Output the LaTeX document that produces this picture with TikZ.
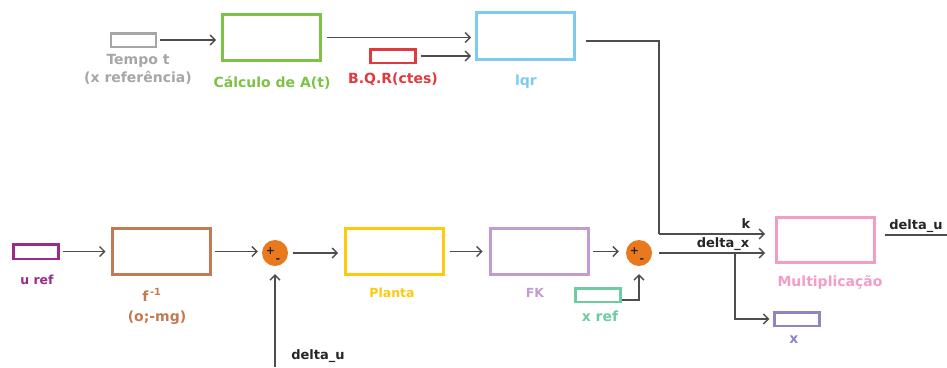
\documentclass[tikz,border=0pt]{standalone}
\usepackage{fontspec}
\setmainfont{DejaVu Sans}
\usetikzlibrary{arrows.meta,calc}
\definecolor{tgray}{HTML}{A6A6A6}
\definecolor{cgreen}{HTML}{7CC243}
\definecolor{bred}{HTML}{E03A3E}
\definecolor{lblue}{HTML}{7DCBF2}
\definecolor{fbrown}{HTML}{C27A52}
\definecolor{pyellow}{HTML}{FFC90E}
\definecolor{fkpurple}{HTML}{C39BD3}
\definecolor{xrgreen}{HTML}{6DCCA0}
\definecolor{mpink}{HTML}{F39DC6}
\definecolor{xpurple}{HTML}{8E85C4}
\definecolor{urpurple}{HTML}{9A2A8C}
\definecolor{sorange}{HTML}{E8791E}
\definecolor{linec}{HTML}{4D4D4D}
\begin{document}
\begin{tikzpicture}[x=1pt,y=-1pt,
  box/.style={draw, line width=3pt, inner sep=0pt, minimum width=98pt, minimum height=46pt},
  sbox/.style={draw, line width=2.5pt, inner sep=0pt, minimum width=45pt, minimum height=13.5pt},
  lbl/.style={font=\bfseries\fontsize{14}{16}\selectfont, inner sep=0pt},
  slbl/.style={font=\bfseries\fontsize{12.5}{14}\selectfont, inner sep=0pt},
  blbl/.style={font=\bfseries\fontsize{13}{15}\selectfont, inner sep=0pt, text=black!85},
  arr/.style={draw=linec, line width=1.3pt, -{Straight Barb[length=5pt,width=10pt]}},
  ln/.style={draw=linec, line width=1.3pt},
  sumnode/.style={circle, fill=sorange, minimum size=26pt, inner sep=0pt},
  sgn/.style={font=\bfseries\fontsize{11}{11}\selectfont, inner sep=0pt, text=black!85}]
\useasboundingbox (0,0) rectangle (947,367);

% top row
\node[sbox, draw=tgray] (tempo) at (133.5,40) {};
\node[box, draw=cgreen] (calc) at (271.5,37.5) {};
\node[sbox, draw=bred] (bqr) at (393,56) {};
\node[box, draw=lblue, minimum height=47pt] (lqr) at (525.5,36) {};

\node[lbl, text=tgray] (tl1) at (138,61) {Tempo t};
\node[lbl, text=tgray] (tl2) at (138,78) {(x referência)};
\node[lbl, text=cgreen] (cl) at (272,83) {Cálculo de A(t)};
\node[lbl, text=bred] (bl) at (393,79) {B.Q.R(ctes)};
\node[lbl, text=lblue] (ll) at (526,82) {lqr};

% bottom row
\node[sbox, draw=urpurple, minimum height=14.5pt] (uref) at (36,251.5) {};
\node[box, draw=fbrown] (finv) at (161,251.5) {};
\node[sumnode] (s1) at (275,253) {};
\node[box, draw=pyellow] (planta) at (394.5,251.5) {};
\node[box, draw=fkpurple] (fk) at (539,251.5) {};
\node[sumnode] (s2) at (639,253) {};
\node[sbox, draw=xrgreen] (xref) at (598,295) {};
\node[box, draw=mpink, minimum height=45pt] (mult) at (825.5,240) {};
\node[sbox, draw=xpurple] (xb) at (797,319) {};

\node[sgn] at ($(s1)+(-4.5,-2)$) {+};
\node[sgn] at ($(s1)+(3,8)$) {-};
\node[sgn] at ($(s2)+(-4.5,-2)$) {+};
\node[sgn] at ($(s2)+(3,8)$) {-};

\node[slbl, text=urpurple] (ul) at (37,280) {u ref};
\node[lbl, text=fbrown] (fl) at (152,295) {f\textsuperscript{\,-1}};
\node[lbl, text=fbrown] (ol) at (157,318) {(o;-mg)};
\node[slbl, text=pyellow] (pl) at (392,293) {Planta};
\node[slbl, text=fkpurple] (fkl) at (535,293) {FK};
\node[lbl, text=xrgreen] (xrl) at (600,316) {x ref};
\node[lbl, text=mpink] (ml) at (830,283) {Multiplicação};
\node[lbl, text=xpurple] (xl) at (794,340) {x};
\node[blbl] (kl) at (746,224) {k};
\node[blbl] (dxl) at (723,244) {delta\_x};
\node[blbl] (dul) at (916,226) {delta\_u};
\node[blbl] (dul2) at (318,356) {delta\_u};

\coordinate (kbend) at (659,234);
\coordinate (kin) at (765,234);
\coordinate (dxin) at (765,253);
\coordinate (br) at (735,253);
\coordinate (duo1) at (885,235);
\coordinate (duo2) at (947,235);
\coordinate (dubot) at (275,367);

% connectors top
\draw[arr, shorten <=3pt, shorten >=5pt] (tempo.east) -- (tempo.east -| calc.west);
\draw[arr, shorten <=5pt, shorten >=4pt] (calc.east) -- (calc.east -| lqr.west);
\draw[arr, shorten <=4pt, shorten >=4pt] (bqr.east) -- (bqr.east -| lqr.west);
\draw[ln] ([xshift=10pt,yshift=-5pt]lqr.east) -| (kbend);
\draw[arr] (kbend) -- (kin);

% connectors bottom
\draw[arr, shorten <=3pt, shorten >=5pt] (uref.east) -- (uref.east -| finv.west);
\draw[arr, shorten <=3pt, shorten >=4pt] (finv.east) -- (finv.east -| s1.west);
\draw[arr, shorten <=5pt, shorten >=6pt] (s1.east) -- (s1.east -| planta.west);
\draw[arr, shorten <=5pt, shorten >=6pt] (planta.east) -- (planta.east -| fk.west);
\draw[arr, shorten <=3pt, shorten >=7pt] (fk.east) -- (fk.east -| s2.west);
\draw[arr, shorten >=8pt] ([yshift=-5pt]xref.east) -| (s2.south);
\draw[arr, shorten >=8pt] (dubot) -- (s1.south);
\draw[arr, shorten <=7pt] (s2.east) -- (dxin);
\draw[arr, shorten >=4pt] (br) |- (xb.west);
\draw[ln] (duo1) -- (duo2);
\end{tikzpicture}
\end{document}
